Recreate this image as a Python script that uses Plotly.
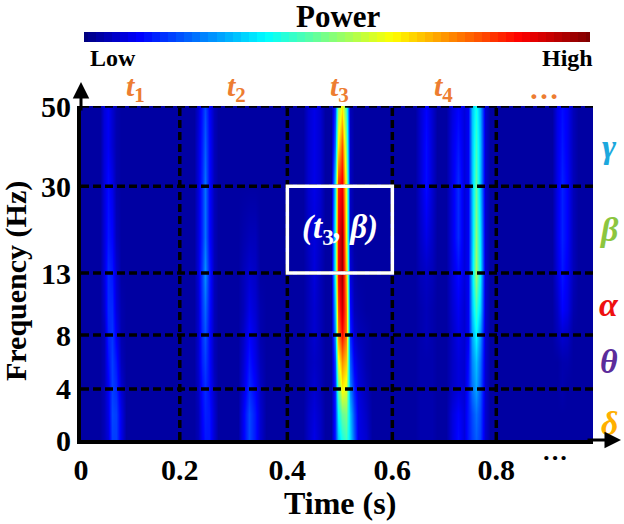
import numpy as np
import plotly.graph_objects as go

SERIF = "Liberation Serif"

# time of each heatmap column (s)
times = [0, .037, .044, .052, .060, .068, .077, .087, .219, .226, .234, .240, .248, .257, .265,
         .304, .313, .325, .337, .346, .358, .429, .439, .451, .462, .472, .484, .491, .497, .505,
         .513, .520, .528, .536, .551, .563, .646, .656, .667, .679, .689, .706, .718, .729, .741,
         .749, .756, .764, .772, .781, .791, .911, .921, .930, .940, .952, .961, .990]

# frequency of each value inside a column (Hz)
freq_rows = [0, 2, 4, 6, 8, 10, 13, 20, 30, 40, 50]

# normalised power, one line per time column
power = [
    [.03, .03, .03, .03, .03, .03, .03, .03, .03, .03, .03],
    [.03, .03, .03, .03, .03, .03, .03, .03, .03, .03, .03],
    [.05, .05, .05, .05, .05, .07, .08, .08, .08, .08, .08],
    [.08, .09, .10, .12, .14, .15, .15, .13, .12, .10, .10],
    [.17, .18, .17, .17, .16, .15, .13, .11, .09, .07, .07],
    [.17, .17, .15, .13, .10, .08, .07, .05, .04, .04, .04],
    [.09, .09, .07, .05, .04, .04, .03, .03, .03, .03, .03],
    [.03, .03, .03, .03, .03, .03, .03, .03, .03, .03, .03],
    [.03, .03, .03, .03, .03, .03, .03, .03, .03, .03, .03],
    [.05, .05, .06, .07, .07, .07, .08, .08, .08, .08, .07],
    [.10, .11, .12, .14, .15, .16, .17, .15, .15, .14, .13],
    [.13, .14, .15, .17, .19, .21, .25, .22, .22, .20, .18],
    [.13, .13, .12, .12, .12, .13, .14, .12, .12, .12, .11],
    [.07, .07, .06, .05, .05, .05, .05, .05, .05, .05, .05],
    [.03, .03, .03, .03, .03, .03, .03, .03, .03, .03, .03],
    [.03, .03, .03, .03, .03, .03, .03, .03, .03, .03, .03],
    [.10, .10, .08, .07, .06, .05, .05, .04, .03, .03, .03],
    [.18, .18, .15, .13, .11, .09, .07, .05, .03, .03, .03],
    [.13, .13, .11, .09, .08, .07, .06, .05, .03, .03, .03],
    [.07, .07, .06, .05, .04, .04, .03, .03, .03, .03, .03],
    [.03, .03, .03, .03, .03, .03, .03, .03, .03, .03, .03],
    [.03, .03, .03, .03, .03, .03, .03, .03, .03, .03, .03],
    [.06, .06, .05, .05, .05, .05, .05, .06, .07, .07, .07],
    [.09, .08, .07, .06, .07, .07, .08, .08, .09, .09, .09],
    [.06, .06, .05, .05, .05, .05, .05, .06, .07, .07, .07],
    [.03, .03, .03, .03, .03, .03, .03, .03, .03, .03, .03],
    [.03, .03, .03, .03, .03, .03, .03, .03, .03, .03, .03],
    [.14, .14, .15, .18, .25, .30, .38, .38, .33, .22, .16],
    [.30, .36, .45, .58, .72, .78, .85, .85, .82, .62, .50],
    [.38, .46, .62, .72, .85, .92, .97, .97, .88, .78, .62],
    [.42, .48, .58, .66, .74, .74, .68, .62, .58, .50, .42],
    [.32, .30, .24, .20, .15, .12, .08, .06, .06, .06, .05],
    [.20, .18, .14, .10, .07, .05, .04, .03, .03, .03, .03],
    [.09, .09, .08, .07, .05, .04, .03, .03, .03, .03, .03],
    [.07, .06, .05, .04, .04, .03, .03, .03, .03, .03, .03],
    [.03, .03, .03, .03, .03, .03, .03, .03, .03, .03, .03],
    [.03, .03, .03, .03, .03, .03, .03, .03, .03, .03, .03],
    [.04, .04, .04, .04, .04, .04, .05, .06, .07, .07, .07],
    [.04, .04, .04, .04, .05, .05, .06, .09, .12, .12, .11],
    [.04, .04, .04, .04, .04, .04, .05, .06, .07, .07, .07],
    [.03, .03, .03, .03, .03, .03, .03, .03, .03, .03, .03],
    [.03, .03, .03, .03, .03, .03, .03, .03, .03, .03, .03],
    [.08, .08, .06, .06, .06, .07, .08, .09, .09, .09, .08],
    [.12, .11, .08, .08, .09, .10, .12, .15, .15, .13, .11],
    [.08, .08, .07, .07, .07, .07, .08, .08, .08, .08, .08],
    [.13, .13, .13, .12, .10, .10, .10, .10, .10, .10, .10],
    [.17, .18, .22, .24, .27, .30, .32, .30, .30, .30, .30],
    [.20, .22, .27, .30, .36, .42, .52, .50, .46, .42, .38],
    [.17, .18, .20, .22, .26, .32, .36, .34, .30, .30, .28],
    [.07, .07, .07, .07, .07, .07, .07, .07, .07, .07, .07],
    [.03, .03, .03, .03, .03, .03, .03, .03, .03, .03, .03],
    [.03, .03, .03, .03, .03, .03, .03, .03, .03, .03, .03],
    [.03, .03, .03, .03, .05, .06, .08, .09, .09, .09, .09],
    [.03, .03, .04, .04, .07, .11, .13, .14, .14, .13, .12],
    [.03, .03, .03, .04, .06, .09, .10, .11, .11, .10, .10],
    [.03, .03, .03, .03, .03, .04, .05, .05, .05, .05, .05],
    [.03, .03, .03, .03, .03, .03, .03, .03, .03, .03, .03],
    [.03, .03, .03, .03, .03, .03, .03, .03, .03, .03, .03],
]

# the frequency axis is not linear in the original, ticks sit at these heights
freq_ticks = [0, 4, 8, 13, 30, 50]
freq_tick_heights = [0, .153, .314, .5, .76, 1]

time_ticks = [0, .191, .399, .602, .803]
time_labels = ["0", "0.2", "0.4", "0.6", "0.8"]

segment_labels = ["<i>t</i><sub>1</sub>", "<i>t</i><sub>2</sub>", "<i>t</i><sub>3</sub>", "<i>t</i><sub>4</sub>", "…"]
segment_times = [.105, .3, .5, .7, .895]

band_names = ["δ", "θ", "α", "β", "γ"]
band_colors = ["#FFB000", "#5B2C9B", "#EE1111", "#8CC63F", "#1CA8DD"]
band_heights = [.05, .235, .405, .63, .88]

jet = [[0, "#00007F"], [.11, "#0000FF"], [.36, "#00FFFF"], [.61, "#FFFF00"], [.86, "#FF0000"], [1, "#7F0000"]]

L, R, T, B = 81, 593, 106, 440
W, H = 624, 524


def fx(px):
    return px / W


def fy(px):
    return 1 - px / H


fig = go.Figure()
fig.add_trace(go.Heatmap(
    x=times,
    y=np.interp(freq_rows, freq_ticks, freq_tick_heights),
    z=np.array(power).T,
    zmin=0, zmax=1,
    zsmooth="best",
    colorscale=jet,
    showscale=False,
    hoverinfo="skip",
))
# the Power bar, as its own little heatmap so it does not push the margins
bar_levels = np.linspace(0, 1, 64)
fig.add_trace(go.Heatmap(
    x=bar_levels, y=[0], z=[bar_levels],
    zmin=0, zmax=1, colorscale=jet, showscale=False, hoverinfo="skip",
    xaxis="x2", yaxis="y2",
))

shapes = []
dash_style = dict(color="black", width=3.5, dash="8px,4px")
for t in time_ticks[1:]:
    shapes.append(dict(type="line", xref="x", yref="y", x0=t, x1=t, y0=0, y1=1, line=dash_style))
for h in freq_tick_heights[1:]:
    shapes.append(dict(type="line", xref="x", yref="y", x0=0, x1=.99, y0=h, y1=h, line=dash_style))
shapes.append(dict(type="rect", xref="x", yref="y", x0=.399, x1=.602, y0=.5, y1=.76,
                   line=dict(color="white", width=3.5)))

annotations = [
    dict(text="<b>Power</b>", x=fx(338), y=fy(16), font=dict(size=31)),
    dict(text="<b>Low</b>", x=fx(113), y=fy(58), font=dict(size=24)),
    dict(text="<b>High</b>", x=fx(567), y=fy(58), font=dict(size=24)),
    dict(text="<b>···</b>", x=fx(555), y=fy(457), font=dict(size=26)),
    dict(text="<b>Time (s)</b>", x=fx(340), y=fy(503), font=dict(size=32)),
    dict(text="<b>Frequency (Hz)</b>", x=fx(16), y=fy(281), font=dict(size=30), textangle=-90),
    dict(text="<b><i>(t</i><sub>3</sub><i>, β)</i></b>", xref="x", yref="y", x=.5, y=.63,
         font=dict(size=33, color="white")),
]
for t, label in zip(segment_times, segment_labels):
    annotations.append(dict(text="<b>" + label + "</b>", xref="x", x=t, y=fy(88), font=dict(size=30, color="#ED7D31")))
for h, name, c in zip(band_heights, band_names, band_colors):
    annotations.append(dict(text="<b><i>" + name + "</i></b>", x=fx(609), yref="y", y=h, font=dict(size=34, color=c)))
for a in annotations:
    a.setdefault("xref", "paper")
    a.setdefault("yref", "paper")
    a["showarrow"] = False
    a["xanchor"] = "center"
    a["yanchor"] = "middle"
    a["font"]["family"] = SERIF

# axis arrows
arrow = dict(showarrow=True, arrowhead=2, arrowsize=1.1, arrowwidth=3, arrowcolor="black", text="",
             xref="paper", yref="paper", axref="pixel", ayref="pixel")
annotations.append(dict(arrow, x=fx(L), y=fy(82), ax=0, ay=30))
annotations.append(dict(arrow, x=fx(621), y=fy(B), ax=-35, ay=0))

fig.update_layout(
    width=W, height=H,
    margin=dict(l=0, r=0, t=0, b=0),
    paper_bgcolor="white",
    plot_bgcolor="white",
    shapes=shapes,
    annotations=annotations,
    font=dict(family=SERIF, color="black"),
    xaxis=dict(
        domain=[fx(L), fx(R)], range=[0, .99], tickvals=time_ticks, automargin=False,
        ticktext=["<b>" + s + "</b>" for s in time_labels], tickfont=dict(size=30),
        showline=True, linecolor="black", linewidth=4, ticks="", showgrid=False, zeroline=False,
    ),
    yaxis=dict(
        domain=[fy(B), fy(T)], range=[0, 1], tickvals=freq_tick_heights, automargin=False,
        ticktext=["<b>" + str(f) + "</b>" for f in freq_ticks], tickfont=dict(size=30),
        showline=True, linecolor="black", linewidth=4, ticks="", showgrid=False, zeroline=False,
    ),
    xaxis2=dict(domain=[fx(84), fx(590)], anchor="y2", range=[0, 1], visible=False),
    yaxis2=dict(domain=[fy(42), fy(32)], anchor="x2", visible=False),
)

fig.write_html("out.html", config=dict(displayModeBar=False), post_script="document.body.style.margin='0';")
